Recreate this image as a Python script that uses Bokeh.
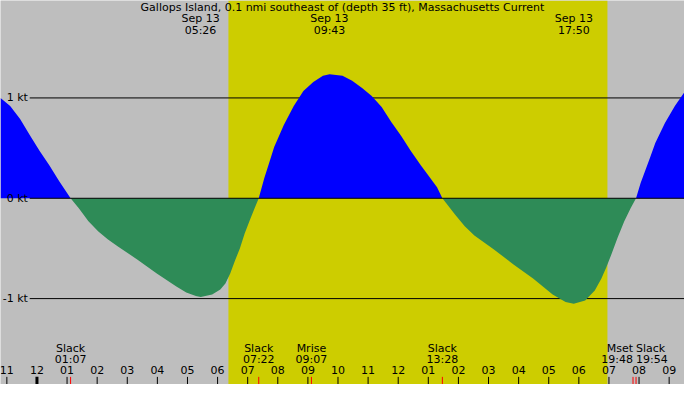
import numpy as np
from bokeh.plotting import figure
from bokeh.models import Range1d
from bokeh.core.properties import value
from bokeh.embed import file_html
from bokeh.resources import INLINE

# current in knots, time in hours from midnight Sep 13
hours = [-1.21, -0.89, -0.56, -0.24, 0.09, 0.41, 0.74, 1.117,
         1.39, 1.71, 2.04, 2.36, 2.69, 3.33, 3.98, 4.63, 4.96, 5.28, 5.44, 5.82,
         6.09, 6.26, 6.42, 6.58, 6.74, 6.90, 7.07, 7.23, 7.367,
         7.55, 7.72, 7.88, 8.20, 8.53, 8.85, 9.18, 9.50, 9.72, 10.15, 10.47,
         10.80, 11.12, 11.45, 11.77, 12.10, 12.42, 12.75, 13.07, 13.29, 13.467,
         13.88, 14.21, 14.53, 15.18, 15.83, 16.48, 17.13, 17.56, 17.83, 18.21,
         18.53, 18.75, 18.91, 19.08, 19.29, 19.51, 19.72, 19.90,
         20.05, 20.21, 20.37, 20.54, 20.86, 21.19, 21.51]
knots = [1.00, 0.92, 0.79, 0.63, 0.47, 0.33, 0.17, 0.0,
         -0.10, -0.23, -0.33, -0.41, -0.48, -0.61, -0.75, -0.88, -0.94, -0.975, -0.985, -0.96,
         -0.91, -0.85, -0.75, -0.62, -0.50, -0.35, -0.22, -0.10, 0.0,
         0.20, 0.36, 0.51, 0.73, 0.92, 1.07, 1.16, 1.22, 1.235, 1.22, 1.17,
         1.10, 1.02, 0.91, 0.76, 0.62, 0.47, 0.33, 0.20, 0.11, 0.0,
         -0.16, -0.28, -0.37, -0.51, -0.66, -0.80, -0.96, -1.035, -1.05, -1.02,
         -0.92, -0.80, -0.69, -0.56, -0.39, -0.23, -0.10, 0.0,
         0.15, 0.28, 0.41, 0.55, 0.75, 0.92, 1.06]

sunrise, sunset = 6.36, 18.95

tick_hours = list(range(-1, 22))
tick_labels = ["11", "12", "01", "02", "03", "04", "05", "06", "07", "08", "09",
               "10", "11", "12", "01", "02", "03", "04", "05", "06", "07", "08", "09"]

event_times = [1.117, 7.367, 9.117, 13.467, 19.80, 19.90]
event_names = ["Slack", "Slack", "Mrise", "Slack", "Mset", "Slack"]
event_labels = ["01:07", "07:22", "09:07", "13:28", "19:48", "19:54"]
event_align = ["center", "center", "center", "center", "right", "left"]

peak_times = [5.433, 9.717, 17.833]
peak_labels = ["05:26", "09:43", "17:50"]

levels = [1, 0, -1]
level_labels = ["1 kt", "0 kt", "-1 kt"]

title = "Gallops Island, 0.1 nmi southeast of (depth 35 ft), Massachusetts Current"

FONT = value("DejaVu Sans")
FS = "11px"
x0, x1 = -1.211, 21.51
y0, y1 = -1.856, 1.971

p = figure(width=684, height=384, x_range=Range1d(x0, x1), y_range=Range1d(y0, y1),
           output_backend="svg", toolbar_location=None,
           x_axis_location=None, y_axis_location=None,
           min_border=0, outline_line_color=None,
           background_fill_color="#bebebe", border_fill_color="#bebebe")
p.grid.visible = False

# daylight
p.quad(left=[sunrise], right=[sunset], bottom=[y0], top=[y1],
       fill_color="#cdcd00", line_color=None)

# +/-1 kt lines under the fill
p.segment(x0=[-0.24] * 2, y0=[1, -1], x1=[x1] * 2, y1=[1, -1],
          line_color="black", line_width=1)

t = np.array(hours)
v = np.array(knots)
p.varea(x=t, y1=np.zeros_like(v), y2=np.clip(v, 0, None), fill_color="#0000ff")
p.varea(x=t, y1=np.zeros_like(v), y2=np.clip(v, None, 0), fill_color="#2e8b57")

p.segment(x0=[-0.24], y0=[0], x1=[x1], y1=[0], line_color="black", line_width=1)

p.text(x=[-0.30] * 3, y=levels, text=level_labels, text_align="right",
       text_baseline="middle", text_font=FONT, text_font_size=FS, text_color="black")

# hour ticks
widths = [3 if h % 24 == 0 else 1 for h in tick_hours]
p.segment(x0=tick_hours, y0=[-1.78] * len(tick_hours), x1=tick_hours,
          y1=[y0] * len(tick_hours), line_color="black", line_width=widths)
p.text(x=tick_hours, y=[-1.713] * len(tick_hours), text=tick_labels,
       text_align="center", text_baseline="middle", text_font=FONT,
       text_font_size=FS, text_color="black")

# events
p.segment(x0=event_times, y0=[-1.78] * len(event_times), x1=event_times,
          y1=[y0] * len(event_times), line_color="red", line_width=1)
for tt, nm, lb, al in zip(event_times, event_names, event_labels, event_align):
    p.text(x=[tt], y=[-1.493], text=[nm], text_align=al, text_baseline="middle",
           text_font=FONT, text_font_size=FS, text_color="black")
    p.text(x=[tt], y=[-1.608], text=[lb], text_align=al, text_baseline="middle",
           text_font=FONT, text_font_size=FS, text_color="black")

# max flood / ebb times
p.text(x=peak_times, y=[1.789] * 3, text=["Sep 13"] * 3, text_align="center",
       text_baseline="middle", text_font=FONT, text_font_size=FS, text_color="black")
p.text(x=peak_times, y=[1.675] * 3, text=peak_labels, text_align="center",
       text_baseline="middle", text_font=FONT, text_font_size=FS, text_color="black")

p.text(x=[(x0 + x1) / 2], y=[1.904], text=[title], text_align="center",
       text_baseline="middle", text_font=FONT, text_font_size=FS, text_color="black")

open("out.html", "w").write(file_html(p, INLINE))
